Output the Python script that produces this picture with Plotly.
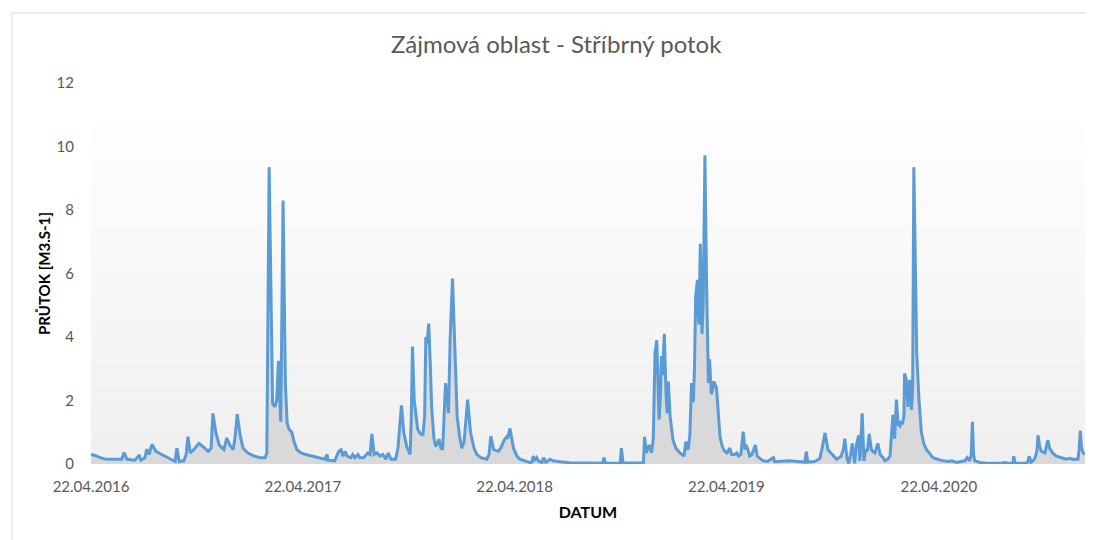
import pandas as pd
import plotly.graph_objects as go

# ---- data ----
start_date = "2016-04-22"
day_offset = [
    0, 7, 16, 24, 41, 53, 57, 62, 76, 83, 86, 93, 96, 100, 105, 112, 122, 133, 140, 145,
    148, 152, 160, 164, 167, 171, 177, 186, 193, 202, 207, 210, 215, 221, 226, 229, 234, 239, 245, 248,
    252, 257, 262, 270, 281, 291, 300, 303, 307, 313, 317, 320, 323, 326, 327, 331, 335, 338, 341, 346,
    350, 355, 362, 370, 381, 395, 403, 407, 408, 420, 427, 431, 434, 438, 441, 448, 451, 455, 460, 463,
    470, 477, 481, 484, 488, 493, 498, 503, 508, 512,
    517, 525, 529, 535, 539, 544, 550, 552, 554, 557, 560, 563, 567, 572, 575, 577, 579, 582, 585, 587,
    591, 594, 600, 603, 606, 609, 611, 616, 619, 623, 627, 631, 635, 639, 643, 649, 654, 660, 665, 672,
    682, 686, 689, 694, 702, 706, 712, 716, 718, 722, 728, 734, 739, 749, 756, 760, 762, 765, 768, 772,
    777, 780, 784, 791, 796, 808, 825, 851, 877, 882, 884, 887, 903, 912, 914, 917, 937, 952, 954, 957,
    962, 966, 969, 972, 975, 977, 979, 981, 983, 985, 988, 991, 993, 995, 998, 1003, 1008, 1015, 1022, 1025,
    1029, 1032, 1035, 1038, 1040, 1042, 1045, 1046, 1048, 1050, 1053, 1055, 1058, 1061, 1064, 1066, 1069, 1072, 1073, 1078,
    1081, 1084, 1088, 1092, 1096, 1101, 1104, 1109, 1113, 1116, 1120, 1124, 1127, 1129, 1132, 1135, 1139, 1145, 1148, 1153,
    1158, 1166, 1176, 1178,
    1187, 1204, 1222, 1230, 1233, 1235, 1247, 1256, 1260, 1265, 1270, 1277, 1285, 1289, 1293, 1297, 1299, 1303, 1306, 1309,
    1312, 1316, 1319, 1323, 1325, 1329, 1332, 1335, 1338, 1341, 1345, 1347, 1351, 1356, 1360, 1365, 1368, 1373, 1377, 1379,
    1382, 1385, 1388, 1391, 1394, 1396, 1398, 1401, 1402, 1405, 1408, 1411, 1414, 1416, 1418, 1423, 1427, 1431, 1435, 1440,
    1446, 1451, 1459, 1468, 1477, 1483, 1492, 1501, 1506, 1510, 1514, 1517, 1519, 1521, 1523, 1532, 1549, 1566, 1575, 1583,
    1589, 1590, 1593, 1609, 1614, 1617, 1620, 1623, 1626, 1630, 1632, 1635, 1638, 1644, 1646, 1649, 1652, 1657, 1664, 1670,
    1675, 1681, 1687, 1692, 1697, 1701, 1703, 1705, 1707, 1710, 1713,
]
flow = [
    0.30, 0.27, 0.20, 0.16, 0.15, 0.15, 0.36, 0.15, 0.12, 0.28, 0.12, 0.20, 0.47, 0.30, 0.62, 0.40, 0.30, 0.20, 0.12, 0.08,
    0.50, 0.08, 0.10, 0.30, 0.86, 0.35, 0.45, 0.65, 0.55, 0.40, 0.50, 1.60, 1.00, 0.60, 0.50, 0.45, 0.82, 0.60, 0.45, 0.80,
    1.57, 0.90, 0.50, 0.35, 0.25, 0.20, 0.20, 0.35, 9.35, 1.90, 1.80, 2.00, 3.25, 1.80, 1.33, 8.30, 2.50, 1.30, 1.10, 1.00,
    0.70, 0.45, 0.35, 0.30, 0.25, 0.20, 0.15, 0.30, 0.12, 0.10, 0.40, 0.45, 0.25, 0.40, 0.25, 0.20, 0.30, 0.20, 0.30, 0.20,
    0.20, 0.35, 0.30, 0.95, 0.30, 0.35, 0.25, 0.30, 0.15, 0.35,
    0.15, 0.15, 0.50, 1.85, 1.00, 0.55, 0.30, 1.50, 3.70, 2.00, 1.50, 1.10, 0.97, 0.90, 1.50, 4.00, 3.80, 4.42, 3.00, 1.80,
    0.80, 0.55, 0.78, 0.50, 0.45, 1.50, 2.55, 1.60, 4.00, 5.84, 3.50, 1.50, 0.90, 0.50, 0.70, 2.03, 1.00, 0.50, 0.30, 0.20,
    0.15, 0.30, 0.88, 0.45, 0.40, 0.50, 0.75, 0.85, 0.80, 1.12, 0.50, 0.25, 0.15, 0.08, 0.05, 0.06, 0.25, 0.10, 0.20, 0.08,
    0.05, 0.20, 0.05, 0.15, 0.10, 0.07, 0.04, 0.03, 0.02, 0.02, 0.20, 0.02, 0.02, 0.03, 0.50, 0.03, 0.03, 0.03, 0.86, 0.35,
    0.60, 0.35, 0.80, 3.50, 3.90, 2.50, 1.40, 2.00, 3.40, 2.80, 4.10, 2.20, 1.60, 2.60, 1.50, 0.75, 0.50, 0.35, 0.25, 0.70,
    0.45, 0.90, 2.55, 1.95, 3.00, 5.26, 5.80, 4.80, 4.40, 6.94, 4.10, 5.00, 9.72, 5.50, 2.55, 3.30, 2.20, 2.40, 2.60, 2.40,
    1.50, 0.85, 0.55, 0.40, 0.35, 0.50, 0.30, 0.30, 0.35, 0.25, 0.30, 1.02, 0.45, 0.60, 0.45, 0.25, 0.30, 0.60, 0.25, 0.18,
    0.10, 0.08, 0.20, 0.07,
    0.08, 0.10, 0.07, 0.06, 0.39, 0.06, 0.08, 0.17, 0.50, 0.98, 0.45, 0.30, 0.15, 0.20, 0.25, 0.50, 0.80, 0.15, 0.02, 0.30,
    0.65, 0.02, 0.60, 0.90, 0.10, 1.60, 0.10, 0.45, 0.40, 0.95, 0.45, 0.40, 0.35, 0.65, 0.30, 0.20, 0.10, 0.15, 0.25, 0.80,
    1.55, 0.80, 2.03, 1.25, 1.20, 1.35, 1.25, 1.50, 2.85, 2.65, 1.80, 2.65, 1.70, 2.40, 9.35, 3.50, 2.00, 1.00, 0.65, 0.45,
    0.30, 0.20, 0.15, 0.10, 0.08, 0.10, 0.05, 0.08, 0.10, 0.20, 0.10, 0.30, 1.33, 0.30, 0.10, 0.05, 0.02, 0.02, 0.05, 0.02,
    0.02, 0.25, 0.02, 0.02, 0.05, 0.25, 0.05, 0.10, 0.15, 0.40, 0.90, 0.55, 0.40, 0.35, 0.50, 0.75, 0.50, 0.35, 0.25, 0.20,
    0.18, 0.15, 0.18, 0.15, 0.15, 0.15, 0.50, 1.05, 0.50, 0.35, 0.30,
]
tick_dates = ["2016-04-22", "2017-04-22", "2018-04-22", "2019-04-22", "2020-04-22"]
tick_labels = ["22.04.2016", "22.04.2017", "22.04.2018", "22.04.2019", "22.04.2020"]
y_ticks = [0, 2, 4, 6, 8, 10, 12]

title_text = "Zájmová oblast - Stříbrný potok"
y_title = "PRŮTOK [M3.S-1]"
x_title = "DATUM"

# ---- build ----
start = pd.Timestamp(start_date)
dates = start + pd.to_timedelta(day_offset, unit="D")

fig = go.Figure()
fig.add_trace(go.Scatter(
    x=dates, y=flow, mode="lines",
    line=dict(color="#5b9bd5", width=3),
    fill="tozeroy", fillcolor="#d9d9d9",
    showlegend=False, hoverinfo="x+y",
))

# plot-area gradient (white at top -> light grey at bottom)
n_bands = 40
grad_top = 10.66
for i in range(n_bands):
    y0 = grad_top * i / n_bands
    y1 = grad_top * (i + 1) / n_bands
    t = (i + 0.5) / n_bands
    c = int(round(239 + (254 - 239) * t))
    fig.add_shape(type="rect", xref="x domain", yref="y", x0=0, x1=1, y0=y0, y1=y1,
                  fillcolor=f"rgb({c},{c},{c})", line=dict(width=0), layer="below")

# chart border (top and left edges visible)
fig.add_shape(type="line", xref="paper", yref="paper", x0=-0.0795, x1=1.02, y0=1.184, y1=1.184,
              line=dict(color="#d9d9d9", width=1))
fig.add_shape(type="line", xref="paper", yref="paper", x0=-0.0795, x1=-0.0795, y0=1.184, y1=-0.25,
              line=dict(color="#d9d9d9", width=1))

# the page body adds an 8px margin; the figure is sized to compensate
fig.update_layout(
    width=1086, height=532,
    margin=dict(l=83, r=9, t=75, b=76),
    paper_bgcolor="white", plot_bgcolor="white",
    font=dict(family="Lato", color="#595959"),
    title=dict(text=title_text, x=0.468, xref="paper", y=1 - 37 / 532, yref="container",
               xanchor="center", yanchor="middle",
               font=dict(family="Lato", size=24, color="#595959")),
    xaxis=dict(
        type="date",
        range=[dates[0], dates[-1]],
        tickvals=tick_dates, ticktext=tick_labels,
        showgrid=False, zeroline=False, showline=False, ticks="",
        tickfont=dict(family="Lato", size=15, color="#595959"),
        ticklabelstandoff=12,
        title=dict(text=x_title, standoff=12,
                   font=dict(family="Lato", size=16, color="#000000", weight="bold")),
    ),
    yaxis=dict(
        range=[0, 12], tickvals=y_ticks,
        showgrid=False, zeroline=False, showline=False, ticks="",
        tickfont=dict(family="Lato", size=15, color="#595959"),
        ticklabelstandoff=16,
        title=dict(text=y_title, standoff=2,
                   font=dict(family="Lato", size=15, color="#000000", weight="bold")),
    ),
)

fig.write_html("out.html")
